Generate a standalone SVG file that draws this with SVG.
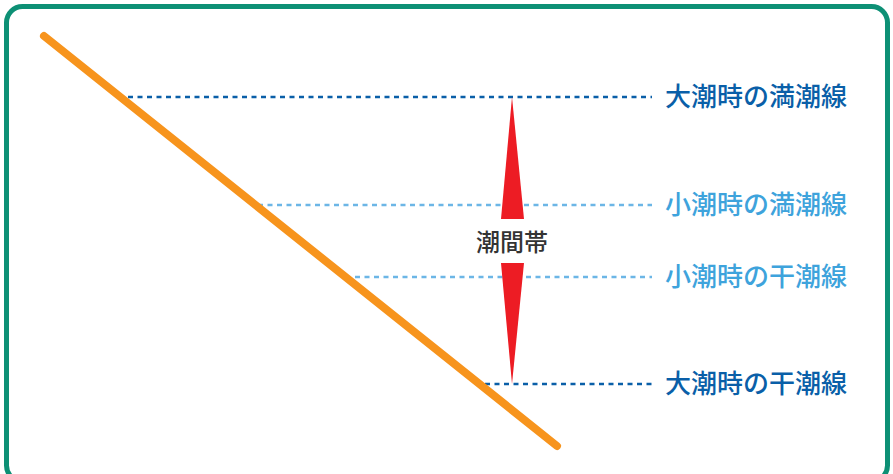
<svg xmlns="http://www.w3.org/2000/svg" width="893" height="474" viewBox="0 0 893 474">
<style>
.dash{stroke-width:2.5;stroke-dasharray:5 4.5;fill:none}
.dk{stroke:#0a5fa8}
.lt{stroke:#6cb6e6}
.lbl{font-family:"Noto Sans CJK JP","Noto Sans",sans-serif;font-size:26px;font-weight:500}
.lbldk{fill:#0a5fa8}
.lbllt{fill:#3ea3dc}
</style>
<rect x="6.5" y="6.5" width="881" height="475" rx="16" ry="16" fill="#ffffff" stroke="#0d9075" stroke-width="5"/>
<g id="connectors">
<line class="dash dk" x1="128" y1="97" x2="652" y2="97"/>
<line class="dash lt" x1="258" y1="205" x2="652" y2="205"/>
<line class="dash lt" x1="355" y1="277" x2="652" y2="277"/>
<line class="dash dk" x1="485" y1="384" x2="652" y2="384"/>
</g>
<g id="shore">
<line x1="44" y1="36" x2="557" y2="446" stroke="#f7941d" stroke-width="8" stroke-linecap="round"/>
</g>
<g id="zone">
<polygon points="512,97 524,219 501,219" fill="#ed1c24"/>
<polygon points="501,263 524,263 512,384" fill="#ed1c24"/>
<text x="512" y="251" text-anchor="middle" font-family="Noto Sans CJK JP,Noto Sans,sans-serif" font-size="24" font-weight="500" fill="#333333">潮間帯</text>
</g>
<g id="spring-high"><text class="lbl lbldk" x="665" y="106">大潮時の満潮線</text></g>
<g id="neap-high"><text class="lbl lbllt" x="665" y="214">小潮時の満潮線</text></g>
<g id="neap-low"><text class="lbl lbllt" x="665" y="286">小潮時の干潮線</text></g>
<g id="spring-low"><text class="lbl lbldk" x="665" y="393">大潮時の干潮線</text></g>
</svg>
